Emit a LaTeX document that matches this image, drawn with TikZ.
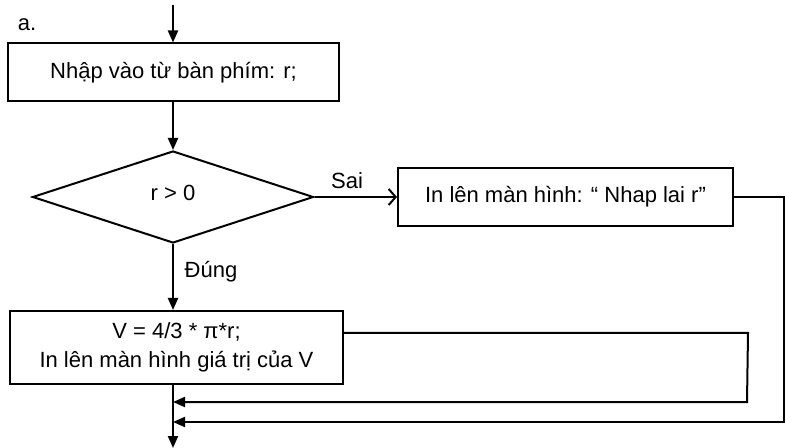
\documentclass[tikz,border=0pt]{standalone}
\usepackage{fontspec}
\setmainfont{Liberation Sans}
\usetikzlibrary{shapes.geometric,arrows.meta}

\begin{document}
\begin{tikzpicture}[x=0.5pt,y=-0.5pt,line width=1pt,
  font=\fontsize{11}{14.5}\selectfont,
  box/.style={draw,rectangle,minimum height=29pt,inner sep=0pt,align=center},
  cond/.style={draw,diamond,minimum width=140.5pt,minimum height=46pt,inner sep=0pt},
  arr/.style={-{Triangle[length=6pt,width=5pt]}},
  barb/.style={-{Straight Barb[length=3.5pt,width=8pt]}}]

\fill [white] (0,0) rectangle (786,448);
\useasboundingbox (0,0) rectangle (786,448);

\coordinate (start) at (173,5);
\coordinate (stop) at (173,448);
\coordinate (join1) at (173,402);
\coordinate (join2) at (173,422);

\node at (27,25) (lbla) {a.};
\node [box,minimum width=165.5pt] at (173.5,72.5) (input) {Nhập vào từ bàn phím: r;};
\node [cond] at (173,197) (test) {};
\node at (173,193) (testtxt) {r > 0};
\node [box,minimum width=167.5pt] at (565.5,197) (again) {In lên màn hình: “ Nhap lai r”};
\node [box,minimum width=166.5pt,minimum height=36.5pt] at (176.5,347.5) (calc) {V = 4/3 * π*r;\\In lên màn hình giá trị của V};
\node at (347,181) (lblno) {Sai};
\node at (211,272) (lblyes) {Đúng};

\draw [arr] (start) -- (start |- input.north);
\draw [arr] (input.south -| test.north) -- (test.north);
\draw [barb] (test.east) -- (again.west);
\draw [arr] (test.south) -- (test.south |- calc.north);
\draw [arr] (calc.south -| test.south) -- (stop);
\draw [arr] ([yshift=7.25pt]calc.east) -- ++(404,0) -- (747,402) -- (join1);
\draw [arr] (again.east) -- (784,197) -- (784,422) -- (join2);

\end{tikzpicture}
\end{document}
